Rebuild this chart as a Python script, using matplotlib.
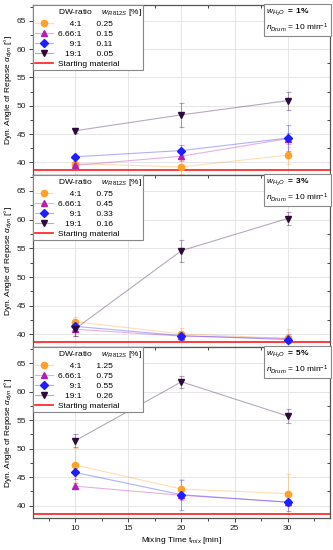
"""
Dynamic angle of repose vs. mixing time for three water contents.
"""

import matplotlib
matplotlib.use('Agg')
import matplotlib.pyplot as plt
from matplotlib.lines import Line2D
from matplotlib.colors import to_rgba
from matplotlib.ticker import MultipleLocator

plt.rcParams['font.family'] = ['Liberation Sans', 'DejaVu Sans']
plt.rcParams['mathtext.fontset'] = 'custom'
plt.rcParams['mathtext.rm'] = 'Liberation Sans'
plt.rcParams['mathtext.it'] = 'Liberation Sans:italic'
plt.rcParams['mathtext.bf'] = 'Liberation Sans:bold'
plt.rcParams['font.size'] = 6

# Data
t_mix = [10, 20, 30]
ratios = ['4:1', '6.66:1', '9:1', '19:1']
water = ['1%', '3%', '5%']
start_material = 38.6

w_r812s = [
    ['0.25', '0.15', '0.11', '0.05'],
    ['0.75', '0.45', '0.33', '0.16'],
    ['1.25', '0.75', '0.55', '0.26'],
]

# mean angle per panel, per ratio
alpha_1 = [[39.8, 39.2, 41.3],
           [39.5, 41.1, 44.2],
           [41.0, 42.1, 44.3],
           [45.6, 48.4, 50.9]]
err_1 = [[0.3, 1.2, 1.5],
         [0.4, 0.8, 1.0],
         [0.4, 1.0, 2.3],
         [0.4, 2.1, 1.6]]

alpha_3 = [[42.2, 40.1, 39.3],
           [40.9, 39.7, 39.3],
           [41.4, 39.8, 39.1],
           [41.0, 54.6, 60.2]]
err_3 = [[0.9, 1.1, 1.7],
         [1.2, 0.6, 0.8],
         [0.5, 0.7, 0.6],
         [1.2, 1.9, 1.1]]

alpha_5 = [[47.1, 42.9, 42.1],
           [43.4, 41.8, 40.6],
           [45.8, 41.9, 40.6],
           [51.4, 61.7, 55.7]]
err_5 = [[3.0, 1.8, 3.5],
         [0.5, 0.8, 0.6],
         [1.2, 2.6, 1.5],
         [1.1, 1.1, 1.2]]

panels = [(alpha_1, err_1), (alpha_3, err_3), (alpha_5, err_5)]

colors = ['#ffa028', '#b41eb4', '#1e1eff', '#2d0a3c']
markers = ['o', '^', 'D', 'v']
msizes = [4.5, 4.5, 3.8, 5]

# pad ratio labels so the value column lines up
pads = ['\u2007\u2008\u2007', '', '\u2007\u2008\u2007', '\u2007\u2008']

fig = plt.figure(figsize=(3.33, 5.5), dpi=100)
tops = [0.991, 0.682, 0.369]
bottoms = [0.682, 0.369, 0.058]
axes = []
for i in range(3):
    ax = fig.add_axes([0.099, bottoms[i], 0.892, tops[i] - bottoms[i]])
    axes.append(ax)

for i, ax in enumerate(axes):
    vals, errs = panels[i]
    handles = [Line2D([], [], linestyle='none')]
    labels = ['DW-ratio\u2003 $w_{R812S}$ [%]']
    for j in range(4):
        c = colors[j]
        ax.errorbar(t_mix, vals[j], yerr=errs[j], fmt='none',
                    ecolor=to_rgba(c, 0.35), elinewidth=0.8, capsize=1.8, capthick=0.8)
        h, = ax.plot(t_mix, vals[j], color=to_rgba(c, 0.35), lw=0.8,
                     marker=markers[j], ms=msizes[j], mfc=c, mec=c, zorder=3)
        handles.append(h)
        labels.append(pads[j] + ratios[j] + '\u2003\u2002 ' + w_r812s[i][j])
    sm = ax.axhline(start_material, color='#ff1a1a', lw=1.2, zorder=2)
    handles.append(sm)
    labels.append('Starting material')

    leg = ax.legend(handles, labels, loc='upper left', borderaxespad=0,
                    fancybox=False, edgecolor='#888888', framealpha=1,
                    handlelength=2.2, handletextpad=0.5, labelspacing=0.25,
                    borderpad=0.25, fontsize=6)
    leg.get_frame().set_linewidth(0.8)

    ax.text(0.996, 0.99,
            '$w_{H_2O}$ $\\mathbf{=\\ ' + water[i].replace('%', '\\%') + '}$\n'
            '$n_{Drum}$ = 10 min$^{-1}$',
            transform=ax.transAxes, ha='right', va='top', fontsize=6,
            multialignment='left', linespacing=1.4,
            bbox=dict(boxstyle='square,pad=0.3', fc='white', ec='#888888', lw=0.8))

    ax.set_xlim(6, 34)
    ax.set_ylim(37.8, 67.8)
    ax.xaxis.set_major_locator(MultipleLocator(5))
    ax.xaxis.set_minor_locator(MultipleLocator(2.5))
    ax.yaxis.set_minor_locator(MultipleLocator(2.5))
    ax.set_yticks([40, 45, 50, 55, 60, 65])
    ax.grid(True, which='major', color='#e6e6e6', lw=0.7, zorder=0)
    ax.set_axisbelow(True)
    ax.tick_params(which='both', direction='out', length=3, width=0.7, pad=2,
                   colors='#444444', labelcolor='#222222', labelsize=6)
    ax.tick_params(which='minor', length=2)
    for s in ax.spines.values():
        s.set_color('#555555')
        s.set_linewidth(0.9)

    # mirrored inward ticks on the right and top
    sec_y = ax.secondary_yaxis('right')
    sec_y.set_yticks([40, 45, 50, 55, 60, 65])
    sec_y.yaxis.set_minor_locator(MultipleLocator(2.5))
    sec_y.tick_params(which='both', direction='in', length=3, width=0.7,
                      colors='#444444', labelright=False)
    sec_y.tick_params(which='minor', length=2)
    sec_y.spines['right'].set_visible(False)
    sec_x = ax.secondary_xaxis('top')
    sec_x.xaxis.set_major_locator(MultipleLocator(5))
    sec_x.xaxis.set_minor_locator(MultipleLocator(2.5))
    sec_x.tick_params(which='both', direction='in', length=3, width=0.7,
                      colors='#444444', labeltop=False)
    sec_x.tick_params(which='minor', length=2)
    sec_x.spines['top'].set_visible(False)

    ax.set_ylabel('Dyn. Angle of Repose $\\alpha_{dyn}$ [°]', fontsize=6, labelpad=2)
    if i < 2:
        ax.tick_params(labelbottom=False)

axes[2].set_xlabel('Mixing Time t$_{mix}$ [min]', fontsize=6, labelpad=2)

fig.savefig('out.png', dpi=100)
